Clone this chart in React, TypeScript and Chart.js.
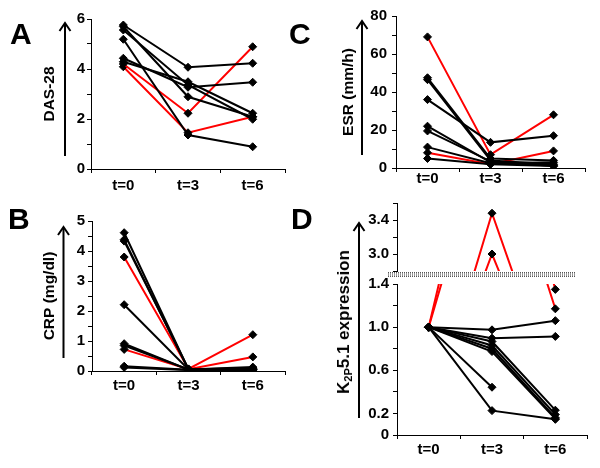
import React, { useEffect, useRef } from 'react';
import { Chart, registerables } from 'chart.js';

Chart.register(...registerables);

const FONT = 'Liberation Sans, Arial, Helvetica, sans-serif';
Chart.defaults.font.family = FONT;

// ---------- data ----------
const timepoints = ['t=0', 't=3', 't=6'];

// Panel A: DAS-28
const dasBlack: number[][] = [
  [5.76, 4.07, 4.23],
  [5.56, 3.36, 1.99],
  [5.7, 2.89, 2.09],
  [5.19, 1.36, 0.89],
  [4.43, 3.27, 3.47],
  [4.29, 3.49, 2.23],
];
const dasRed: number[][] = [
  [4.2, 2.23, 4.89],
  [4.09, 1.45, 2.09],
];
const dasTicks = [0, 1, 2, 3, 4, 5, 6];
const dasTickLabels = [0, 2, 4, 6];

// Panel B: CRP (mg/dl)
const crpBlack: number[][] = [
  [4.61, 0.05, 0.1],
  [4.38, 0.05, 0.05],
  [4.33, 0.06, 0.08],
  [2.21, 0.05, 0.03],
  [0.91, 0.04, 0.05],
  [0.85, 0.05, 0.13],
  [0.16, 0.04, 0.04],
  [0.12, 0.03, 0.06],
];
const crpRed: number[][] = [
  [3.8, 0.07, 1.21],
  [0.72, 0.06, 0.47],
];
const crpTicks = [0, 0.5, 1, 1.5, 2, 2.5, 3, 3.5, 4, 4.5, 5];
const crpTickLabels = [0, 1, 2, 3, 4, 5];

// Panel C: ESR (mm/h)
const esrBlack: number[][] = [
  [47.5, 5, 4],
  [46.5, 4, 2],
  [36, 13.5, 17],
  [22, 3, 1.5],
  [19.5, 3.5, 1],
  [11, 2.5, 3],
  [5, 2, 1],
];
const esrRed: number[][] = [
  [69, 7, 28],
  [8, 2, 9],
];
const esrTicks = [0, 10, 20, 30, 40, 50, 60, 70, 80];
const esrTickLabels = [0, 20, 40, 60, 80];

// Panel D: K2P5.1 expression
const kBlack: (number | null)[][] = [
  [1.0, 0.975, 1.06],
  [1.0, 0.898, 0.914],
  [1.0, 0.867, 0.23],
  [1.0, 0.83, 0.19],
  [1.0, 0.8, 0.16],
  [1.0, 0.774, 0.15],
  [1.0, 0.443, null],
  [1.0, 0.226, 0.145],
];
const kRed: number[][] = [
  [1.0, 3.48, 1.35],
  [1.0, 3.0, 1.17],
];
const kLowTicks = [0, 0.2, 0.4, 0.6, 0.8, 1.0, 1.2, 1.4];
const kLowTickLabels = [0, 0.2, 0.6, 1.0, 1.4];
const kHighTicks = [2.8, 3.0, 3.2, 3.4, 3.6];
const kHighTickLabels = [3.0, 3.4];

// ---------- plugin: vertical arrow beside the axis title ----------
const arrowPlugin = {
  id: 'yArrow',
  afterDraw(chart: any, _args: any, opts: any) {
    if (!opts || opts.x == null) return;
    const ctx = chart.ctx;
    ctx.save();
    ctx.strokeStyle = '#000';
    ctx.lineWidth = 2;
    ctx.beginPath();
    ctx.moveTo(opts.x, opts.bottom);
    ctx.lineTo(opts.x, opts.top + 1);
    ctx.stroke();
    ctx.beginPath();
    ctx.moveTo(opts.x - 5.5, opts.top + 8);
    ctx.lineTo(opts.x, opts.top);
    ctx.lineTo(opts.x + 5.5, opts.top + 8);
    ctx.stroke();
    ctx.restore();
  },
};

type PanelOpts = {
  black: (number | null)[][];
  red: (number | null)[][];
  min: number;
  max: number;
  ticks: number[];
  tickLabels: number[];
  fmt: (v: number) => string;
  padLeft: number;
  area: { l: number; r: number; t: number; b: number };
  showX: boolean;
  xPad: number;
  yPad: number;
  title?: string;
  titlePad?: number;
  arrow?: { x: number; top: number; bottom: number };
};

function makeConfig(p: PanelOpts): any {
  const ds = (d: (number | null)[], color: string) => ({
    data: d,
    borderColor: color,
    backgroundColor: color,
    borderWidth: 2,
    tension: 0,
    fill: false,
    pointStyle: 'rectRot',
    pointRadius: 4,
    pointBorderWidth: 1,
    pointBackgroundColor: '#000',
    pointBorderColor: '#000',
  });
  const datasets = [
    ...p.black.map((d) => ds(d, '#000000')),
    ...p.red.map((d) => ds(d, '#ff0000')),
  ];
  const xH = p.showX ? 30 : 0;
  const tickFont = { size: 15, weight: 'bold' as const, family: FONT };
  return {
    type: 'line',
    data: { labels: timepoints, datasets },
    options: {
      responsive: false,
      maintainAspectRatio: false,
      animation: false,
      devicePixelRatio: 1,
      events: [],
      layout: {
        padding: {
          left: p.padLeft,
          top: p.area.t,
          right: 600 - p.area.r,
          bottom: 468 - p.area.b - xH,
        },
      },
      plugins: {
        legend: { display: false },
        tooltip: { enabled: false },
        title: { display: false },
        yArrow: p.arrow || {},
      },
      scales: {
        x: {
          type: 'category',
          display: p.showX,
          offset: true,
          grid: {
            offset: true,
            drawOnChartArea: false,
            drawTicks: true,
            tickLength: 4,
            color: '#000',
            lineWidth: 1,
          },
          border: { display: true, color: '#000', width: 1 },
          ticks: {
            color: '#000',
            font: tickFont,
            padding: p.xPad,
            autoSkip: false,
            maxRotation: 0,
          },
          afterFit: (s: any) => {
            s.height = xH;
          },
        },
        y: {
          type: 'linear',
          min: p.min,
          max: p.max,
          afterBuildTicks: (axis: any) => {
            axis.ticks = p.ticks.map((v) => ({ value: v }));
          },
          grid: {
            drawOnChartArea: false,
            drawTicks: true,
            tickLength: 4,
            color: '#000',
            lineWidth: 1,
          },
          border: { display: true, color: '#000', width: 1 },
          ticks: {
            color: '#000',
            font: tickFont,
            padding: p.yPad,
            autoSkip: false,
            callback: (v: number) => (p.tickLabels.some((t) => Math.abs(t - v) < 1e-9) ? p.fmt(v) : ''),
          },
          title: {
            display: !!p.title,
            text: p.title || '',
            color: '#000',
            font: { size: 15.5, weight: 'bold', family: FONT },
            padding: { top: p.titlePad || 0, bottom: 0 },
          },
          afterFit: (s: any) => {
            s.width = p.area.l - p.padLeft;
          },
        },
      },
    },
    plugins: [arrowPlugin],
  };
}

const intFmt = (v: number) => String(v);
const decFmt = (v: number) => (v === 0 ? '0' : v.toFixed(1));

const panels: PanelOpts[] = [
  {
    black: dasBlack, red: dasRed, min: 0, max: 6, ticks: dasTicks, tickLabels: dasTickLabels, fmt: intFmt,
    padLeft: 0, area: { l: 91, r: 285, t: 19, b: 169 }, showX: true, xPad: 4, yPad: 2,
    title: 'DAS-28', titlePad: 40, arrow: { x: 65, top: 23, bottom: 156 },
  },
  {
    black: crpBlack, red: crpRed, min: 0, max: 5, ticks: crpTicks, tickLabels: crpTickLabels, fmt: intFmt,
    padLeft: 0, area: { l: 92, r: 285, t: 221, b: 371 }, showX: true, xPad: 2, yPad: 3,
    title: 'CRP (mg/dl)', titlePad: 40, arrow: { x: 63.5, top: 227, bottom: 358 },
  },
  {
    black: esrBlack, red: esrRed, min: 0, max: 80, ticks: esrTicks, tickLabels: esrTickLabels, fmt: intFmt,
    padLeft: 300, area: { l: 396, r: 585, t: 16, b: 168 }, showX: true, xPad: -2, yPad: 5,
    title: 'ESR (mm/h)', titlePad: 39, arrow: { x: 362, top: 21, bottom: 155 },
  },
  {
    black: kBlack, red: kRed, min: 0, max: 1.4, ticks: kLowTicks, tickLabels: kLowTickLabels, fmt: decFmt,
    padLeft: 300, area: { l: 397, r: 587, t: 284, b: 435 }, showX: true, xPad: 2, yPad: 4,
    arrow: { x: 359, top: 223, bottom: 418 },
  },
  {
    black: kBlack, red: kRed, min: 2.8, max: 3.6, ticks: kHighTicks, tickLabels: kHighTickLabels, fmt: decFmt,
    padLeft: 300, area: { l: 397, r: 587, t: 203, b: 271 }, showX: false, xPad: 0, yPad: 4,
  },
];

function ChartLayer({ opts }: { opts: PanelOpts }) {
  const ref = useRef<HTMLCanvasElement | null>(null);
  useEffect(() => {
    if (!ref.current) return;
    const chart = new Chart(ref.current, makeConfig(opts));
    return () => chart.destroy();
  }, [opts]);
  return (
    <canvas
      ref={ref}
      width={600}
      height={468}
      style={{ position: 'absolute', left: 0, top: 0, width: 600, height: 468 }}
    />
  );
}

const letterStyle: React.CSSProperties = {
  position: 'absolute',
  fontFamily: FONT,
  fontWeight: 'bold',
  fontSize: 30,
  lineHeight: '30px',
  color: '#000',
};

export default function App() {
  return (
    <div
      style={{
        position: 'absolute',
        left: 0,
        top: 0,
        width: 600,
        height: 468,
        background: '#fff',
        overflow: 'hidden',
      }}
    >
      {panels.map((p, i) => (
        <ChartLayer key={i} opts={p} />
      ))}
      <div style={{ ...letterStyle, left: 10, top: 19 }}>A</div>
      <div style={{ ...letterStyle, left: 8, top: 204 }}>B</div>
      <div style={{ ...letterStyle, left: 289, top: 19 }}>C</div>
      <div style={{ ...letterStyle, left: 291, top: 204 }}>D</div>
      <div
        style={{
          position: 'absolute',
          left: 388,
          top: 272,
          width: 187,
          height: 3,
          borderTop: '1px dotted #555',
          borderBottom: '1px dotted #555',
          background: 'repeating-linear-gradient(90deg, #999 0 1px, #fff 1px 2px)',
        }}
      />
      <div
        style={{
          position: 'absolute',
          left: 346,
          top: 322,
          transform: 'translate(-50%, -50%) rotate(-90deg)',
          whiteSpace: 'nowrap',
          fontFamily: FONT,
          fontWeight: 'bold',
          fontSize: 17,
          lineHeight: '20px',
          color: '#000',
        }}
      >
        K<sub style={{ fontSize: 11, verticalAlign: '-3px' }}>2P</sub>5.1 expression
      </div>
    </div>
  );
}
